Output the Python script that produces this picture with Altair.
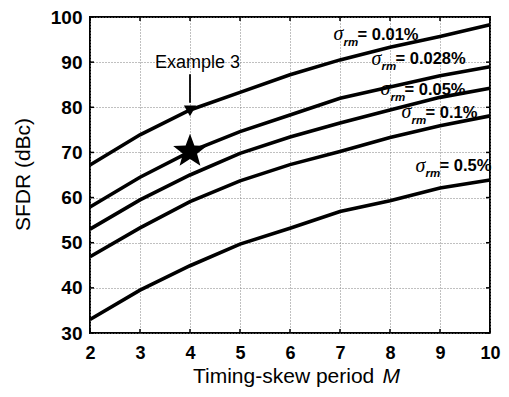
import math
import altair as alt
import pandas as pd

# ---- data -------------------------------------------------------------
M = [2, 3, 4, 5, 6, 7, 8, 9, 10]
sigma_labels = ["0.01%", "0.028%", "0.05%", "0.1%", "0.5%"]
sfdr_001 = [67.2, 73.9, 79.4, 83.3, 87.2, 90.5, 93.3, 95.7, 98.3]
sfdr_0028 = [57.9, 64.5, 70.2, 74.6, 78.3, 82.0, 84.5, 87.0, 89.0]
sfdr_005 = [53.0, 59.5, 65.0, 69.8, 73.4, 76.5, 79.4, 82.2, 84.2]
sfdr_01 = [46.9, 53.3, 59.1, 63.7, 67.3, 70.2, 73.3, 75.9, 78.1]
sfdr_05 = [33.0, 39.5, 44.9, 49.7, 53.2, 56.9, 59.3, 62.1, 63.9]
series = [sfdr_001, sfdr_0028, sfdr_005, sfdr_01, sfdr_05]

x_ticks = [2, 3, 4, 5, 6, 7, 8, 9, 10]
y_ticks = [30, 40, 50, 60, 70, 80, 90, 100]

# label anchors (data coordinates of the sigma symbol)
label_x = [6.87, 7.63, 7.81, 8.23, 8.51]
label_y = [94.9, 89.37, 82.72, 77.56, 65.73]

example_M = [4]
example_SFDR = [70.2]
example_text = ["Example 3"]

# ---- tables -----------------------------------------------------------
rows = []
for lab, vals in zip(sigma_labels, series):
    for m, v in zip(M, vals):
        rows.append({"sigma": lab, "period": m, "sfdr": v})
df = pd.DataFrame(rows)

lab_df = pd.DataFrame({"period": label_x, "sfdr": label_y,
                       "txt": ["= " + s for s in sigma_labels]})

# five-pointed star symbol path in the unit box
pts = []
for k in range(10):
    r = 1.0 if k % 2 == 0 else 0.42
    a = math.radians(36 * k)
    pts.append(f"{r * math.sin(a):.4f},{-r * math.cos(a):.4f}")
STAR = "M" + "L".join(pts) + "Z"

FONT = "Liberation Sans"
xs = alt.Scale(domain=[2, 10], nice=False, zero=False)
ys = alt.Scale(domain=[30, 100], nice=False, zero=False)

x_axis = alt.Axis(values=x_ticks, title=None, labelFont=FONT, labelFontSize=18,
                  labelFontWeight="bold", labelColor="black", labelPadding=11,
                  labelFlush=False, tickSize=0, domain=False, grid=True, gridDash=[1, 2],
                  gridColor="#808080", gridWidth=1)
y_axis = alt.Axis(values=y_ticks, title="SFDR (dBc)", labelFont=FONT, labelFontSize=19,
                  labelFontWeight="bold", labelColor="black", labelPadding=8,
                  labelFlush=False, tickSize=0, domain=False, grid=True, gridDash=[1, 2],
                  gridColor="#808080", gridWidth=1,
                  titleFont=FONT, titleFontSize=21, titleFontWeight="normal",
                  titleColor="black", titleAngle=270, titleX=-67, titleY=157,
                  titleAlign="center", titleBaseline="middle")


def X(f):
    return alt.X(f, type="quantitative", scale=xs, axis=x_axis)


def Y(f):
    return alt.Y(f, type="quantitative", scale=ys, axis=y_axis)


lines = alt.Chart(df).mark_line(color="black", strokeWidth=3.6).encode(
    x=X("period"), y=Y("sfdr"), detail="sigma:N",
)

# inward ticks
tb_df = pd.DataFrame({"period": x_ticks, "sfdr": [30] * len(x_ticks), "s2": [30.9] * len(x_ticks)})
tt_df = pd.DataFrame({"period": x_ticks, "sfdr": [99.1] * len(x_ticks), "s2": [100] * len(x_ticks)})
tl_df = pd.DataFrame({"sfdr": y_ticks, "period": [2] * len(y_ticks), "p2": [2.08] * len(y_ticks)})
tr_df = pd.DataFrame({"sfdr": y_ticks, "period": [9.92] * len(y_ticks), "p2": [10] * len(y_ticks)})
ticks_b = alt.Chart(tb_df).mark_rule(color="black", strokeWidth=1.5).encode(
    x=X("period"), y=Y("sfdr"), y2="s2:Q")
ticks_t = alt.Chart(tt_df).mark_rule(color="black", strokeWidth=1.5).encode(
    x=X("period"), y=Y("sfdr"), y2="s2:Q")
ticks_l = alt.Chart(tl_df).mark_rule(color="black", strokeWidth=1.5).encode(
    y=Y("sfdr"), x=X("period"), x2="p2:Q")
ticks_r = alt.Chart(tr_df).mark_rule(color="black", strokeWidth=1.5).encode(
    y=Y("sfdr"), x=X("period"), x2="p2:Q")

# labels
sig = alt.Chart(lab_df).mark_text(text="σ", font="Liberation Serif", fontStyle="italic",
                                  fontSize=20, align="left", baseline="alphabetic",
                                  color="black").encode(x=X("period"), y=Y("sfdr"))
rm = alt.Chart(lab_df).mark_text(text="rm", font=FONT, fontStyle="italic", fontWeight="bold",
                                 fontSize=11.5, align="left", baseline="alphabetic",
                                 dx=10, dy=5.5, color="black").encode(x=X("period"), y=Y("sfdr"))
val = alt.Chart(lab_df).mark_text(font=FONT, fontWeight="bold", fontSize=16.5,
                                  align="left", baseline="alphabetic", dx=24, dy=-0.5,
                                  color="black").encode(x=X("period"), y=Y("sfdr"), text="txt:N")

# example marker
ex_df = pd.DataFrame({"period": example_M, "sfdr": example_SFDR})
star = alt.Chart(ex_df).mark_point(shape=STAR, filled=True, color="black",
                                   opacity=1, size=1250).encode(x=X("period"), y=Y("sfdr"))

arrow_df = pd.DataFrame({"period": [4], "sfdr": [87.3], "s2": [81.0]})
head_df = pd.DataFrame({"period": [4], "sfdr": [79.2]})
extxt_df = pd.DataFrame({"period": [4.15], "sfdr": [88.64], "t": example_text})
shaft = alt.Chart(arrow_df).mark_rule(color="black", strokeWidth=1.8).encode(
    x=X("period"), y=Y("sfdr"), y2="s2:Q")
head = alt.Chart(head_df).mark_point(shape="triangle-down", filled=True, color="black",
                                     opacity=1, size=150).encode(x=X("period"), y=Y("sfdr"))
ex_txt = alt.Chart(extxt_df).mark_text(font=FONT, fontSize=18, align="center",
                                       baseline="alphabetic", color="black").encode(
    x=X("period"), y=Y("sfdr"), text="t:N")

# x-axis title (with italic M)
xt1 = alt.Chart(ex_df).mark_text(text="Timing-skew period", font=FONT, fontSize=21,
                                 align="left", baseline="alphabetic", color="black").encode(
    x=alt.value(103), y=alt.value(366))
xt2 = alt.Chart(ex_df).mark_text(text="M", font=FONT, fontSize=21, fontStyle="italic",
                                 align="right", baseline="alphabetic", color="black").encode(
    x=alt.value(310), y=alt.value(366))

chart = alt.layer(lines, ticks_b, ticks_t, ticks_l, ticks_r, sig, rm, val, star,
                  shaft, head, ex_txt, xt1, xt2).properties(
    width=400, height=316,
    autosize=alt.AutoSizeParams(type="none"),
    padding={"left": 82, "top": 9, "right": 11, "bottom": 55},
    background="white",
).configure_view(stroke="black", strokeWidth=2)

chart.save("out.html", embed_options={"renderer": "svg", "actions": False})
